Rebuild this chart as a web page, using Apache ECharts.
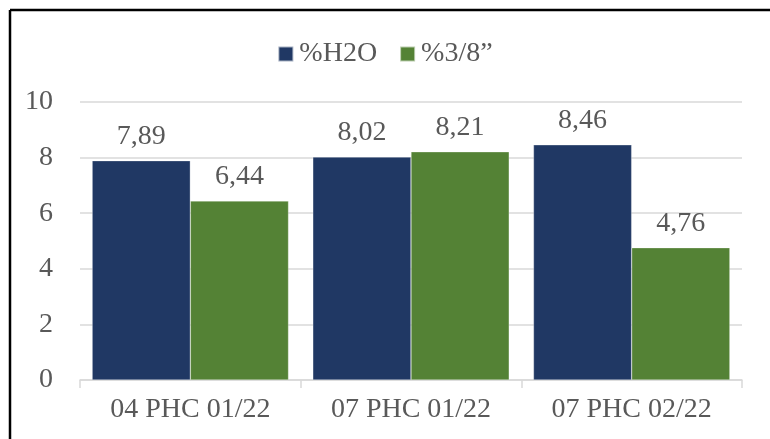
<!DOCTYPE html>
<html>
<head>
<meta charset="utf-8">
<script src="https://cdn.jsdelivr.net/npm/echarts@6/dist/echarts.min.js"></script>
<style>
  html, body { margin: 0; padding: 0; background: #fff; }
  #chart { width: 770px; height: 439px; }
</style>
</head>
<body>
<div id="chart"></div>
<script>
// Sample categories and measured percentages
const categories = ['04 PHC 01/22', '07 PHC 01/22', '07 PHC 02/22'];
const waterPct = [7.89, 8.02, 8.46];
const sievePct = [6.44, 8.21, 4.76];
const seriesNames = ['%H2O', '%3/8\u201d'];
const yTicks = { min: 0, max: 10, interval: 2 };

const FONT = '"Liberation Serif", "Times New Roman", serif';
const TEXT = '#595959';
const GRID = '#d9d9d9';
const FS = 28;

// Decimal comma formatting
const fmt = v => v.toFixed(2).replace('.', ',');

const chart = echarts.init(document.getElementById('chart'), null, { renderer: 'canvas' });

const barLabel = {
  show: true,
  position: 'top',
  distance: 10,
  color: TEXT,
  fontFamily: FONT,
  fontSize: FS,
  formatter: p => fmt(p.value)
};

chart.setOption({
  animation: false,
  backgroundColor: '#fff',
  textStyle: { fontFamily: FONT },
  graphic: [
    { type: 'line', shape: { x1: 10, y1: 10, x2: 770, y2: 10 }, style: { stroke: '#000', lineWidth: 2.5 } },
    { type: 'line', shape: { x1: 10, y1: 10, x2: 10, y2: 439 }, style: { stroke: '#000', lineWidth: 2.5 } }
  ],
  legend: {
    top: 35,
    left: 'center',
    itemWidth: 15,
    itemHeight: 15,
    itemGap: 22,
    icon: 'rect',
    textStyle: { color: TEXT, fontFamily: FONT, fontSize: FS, padding: [0, 0, 0, 1] },
    data: seriesNames
  },
  grid: { left: 80, right: 28, top: 102, bottom: 59 },
  xAxis: {
    type: 'category',
    data: categories,
    axisLine: { lineStyle: { color: GRID, width: 1.5 } },
    axisTick: { show: true, length: 8, lineStyle: { color: GRID, width: 1.5 } },
    axisLabel: { color: TEXT, fontFamily: FONT, fontSize: FS, margin: 16 }
  },
  yAxis: {
    type: 'value',
    min: yTicks.min,
    max: yTicks.max,
    interval: yTicks.interval,
    axisLine: { show: false },
    axisTick: { show: false },
    splitLine: { lineStyle: { color: GRID, width: 1.5 } },
    axisLabel: { color: TEXT, fontFamily: FONT, fontSize: FS, margin: 27 }
  },
  series: [
    {
      name: seriesNames[0],
      type: 'bar',
      data: waterPct,
      barGap: '0%',
      barCategoryGap: '11%',
      itemStyle: { color: '#203864', borderColor: 'rgba(255,255,255,0.6)', borderWidth: 0.5 },
      label: barLabel
    },
    {
      name: seriesNames[1],
      type: 'bar',
      data: sievePct,
      itemStyle: { color: '#548235', borderColor: 'rgba(255,255,255,0.6)', borderWidth: 0.5 },
      label: barLabel
    }
  ]
});
</script>
</body>
</html>
